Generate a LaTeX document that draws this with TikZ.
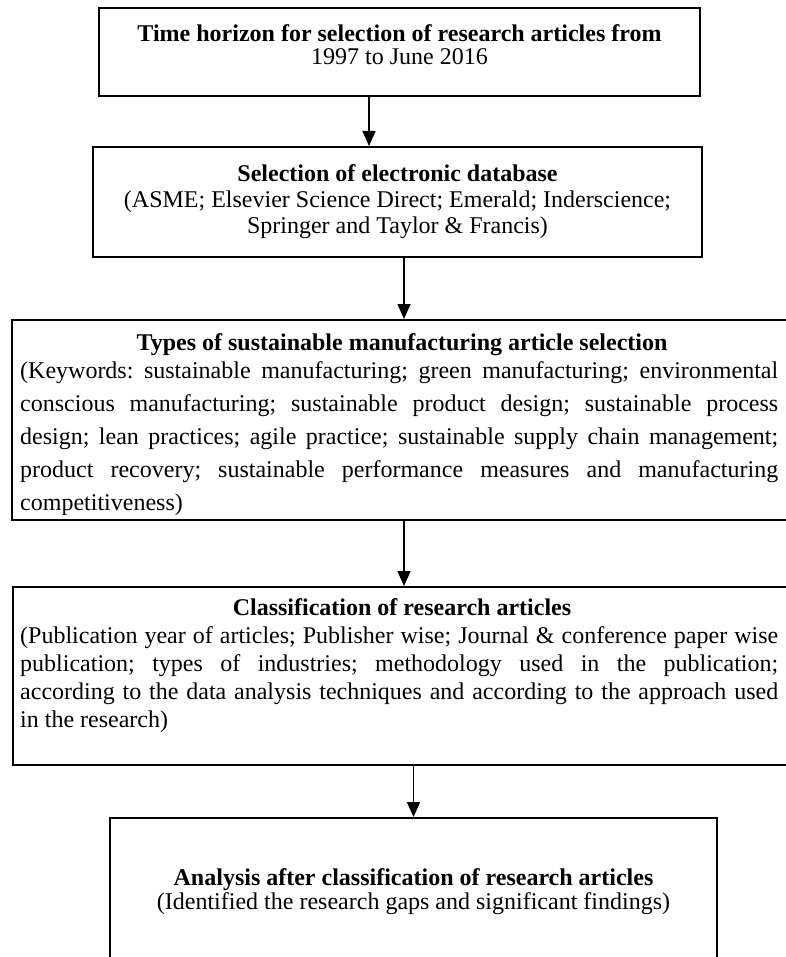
\documentclass[tikz,border=0pt]{standalone}
\usepackage{fontspec}
\setmainfont{Liberation Serif}
\usetikzlibrary{arrows.meta}
\newcommand{\fullline}[1]{\makebox[758pt][s]{#1}}
\frenchspacing
\begin{document}
\begin{tikzpicture}[x=1pt,y=-1pt,
  frame/.style={draw=black,line width=2pt,inner sep=0pt,fill=none},
  flow/.style={line width=1.6pt,-{Triangle[width=13pt,length=15pt]}},
  hd/.style={anchor=base,inner sep=0pt,font=\fontsize{24}{28}\selectfont\bfseries},
  tx/.style={anchor=base,inner sep=0pt,font=\fontsize{24}{28}\selectfont},
  jl/.style={tx,anchor=base west}]
\useasboundingbox[fill=white] (0,0) rectangle (785,957);

% box 1: time horizon
\node[hd] (t1a) at (399.5,42) {Time horizon for selection of research articles from};
\node[tx] (t1b) at (399.5,65) {1997 to June 2016};
\node[frame,minimum width=601pt,minimum height=88pt] (b1) at (399.5,52) {};

% box 2: databases
\node[hd] (t2a) at (397.5,182) {Selection of electronic database};
\node[tx] (t2b) at (397.5,208) {(ASME; Elsevier Science Direct; Emerald; Inderscience;};
\node[tx] (t2c) at (397.5,234) {Springer and Taylor \& Francis)};
\node[frame,minimum width=609pt,minimum height=110pt] (b2) at (397.5,202) {};

% box 3: article types, last line cut off by the text area
\begin{scope}
\clip (12,320) rectangle (800,514);
\node[hd] (t3a) at (402,350) {Types of sustainable manufacturing article selection};
\node[jl] (t3b) at (20,378) {\fullline{(Keywords: sustainable manufacturing; green manufacturing; environmental}};
\node[jl] (t3c) at (20,411) {\fullline{conscious manufacturing; sustainable product design; sustainable process}};
\node[jl] (t3d) at (20,444) {\fullline{design; lean practices; agile practice; sustainable supply chain management;}};
\node[jl] (t3e) at (20,477) {\fullline{product recovery; sustainable performance measures and manufacturing}};
\node[jl] (t3f) at (20,510.5) {competitiveness)};
\end{scope}
\node[frame,minimum width=788pt,minimum height=200pt] (b3) at (406,420) {};

% box 4: classification
\node[hd] (t4a) at (402,615) {Classification of research articles};
\node[jl] (t4b) at (20,643) {\fullline{(Publication year of articles; Publisher wise; Journal \& conference paper wise}};
\node[jl] (t4c) at (20,671) {\fullline{publication; types of industries; methodology used in the publication;}};
\node[jl] (t4d) at (20,699) {\fullline{according to the data analysis techniques and according to the approach used}};
\node[jl] (t4e) at (20,727) {in the research)};
\node[frame,minimum width=787pt,minimum height=178pt] (b4) at (406.5,676) {};

% box 5: analysis
\node[hd] (t5a) at (413.5,885) {Analysis after classification of research articles};
\node[tx] (t5b) at (413.5,909) {(Identified the research gaps and significant findings)};
\node[frame,minimum width=607pt,minimum height=162pt] (b5) at (413.5,899) {};

% connectors
\coordinate (x1) at (369,0);
\coordinate (x2) at (404,0);
\coordinate (x3) at (404,0);
\coordinate (x4) at (413.5,0);
\draw[flow] (b1.south -| x1) -- (b2.north -| x1);
\draw[flow] (b2.south -| x2) -- (b3.north -| x2);
\draw[flow] (b3.south -| x3) -- (b4.north -| x3);
\draw[flow] (b4.south -| x4) -- (b5.north -| x4);
\end{tikzpicture}
\end{document}
